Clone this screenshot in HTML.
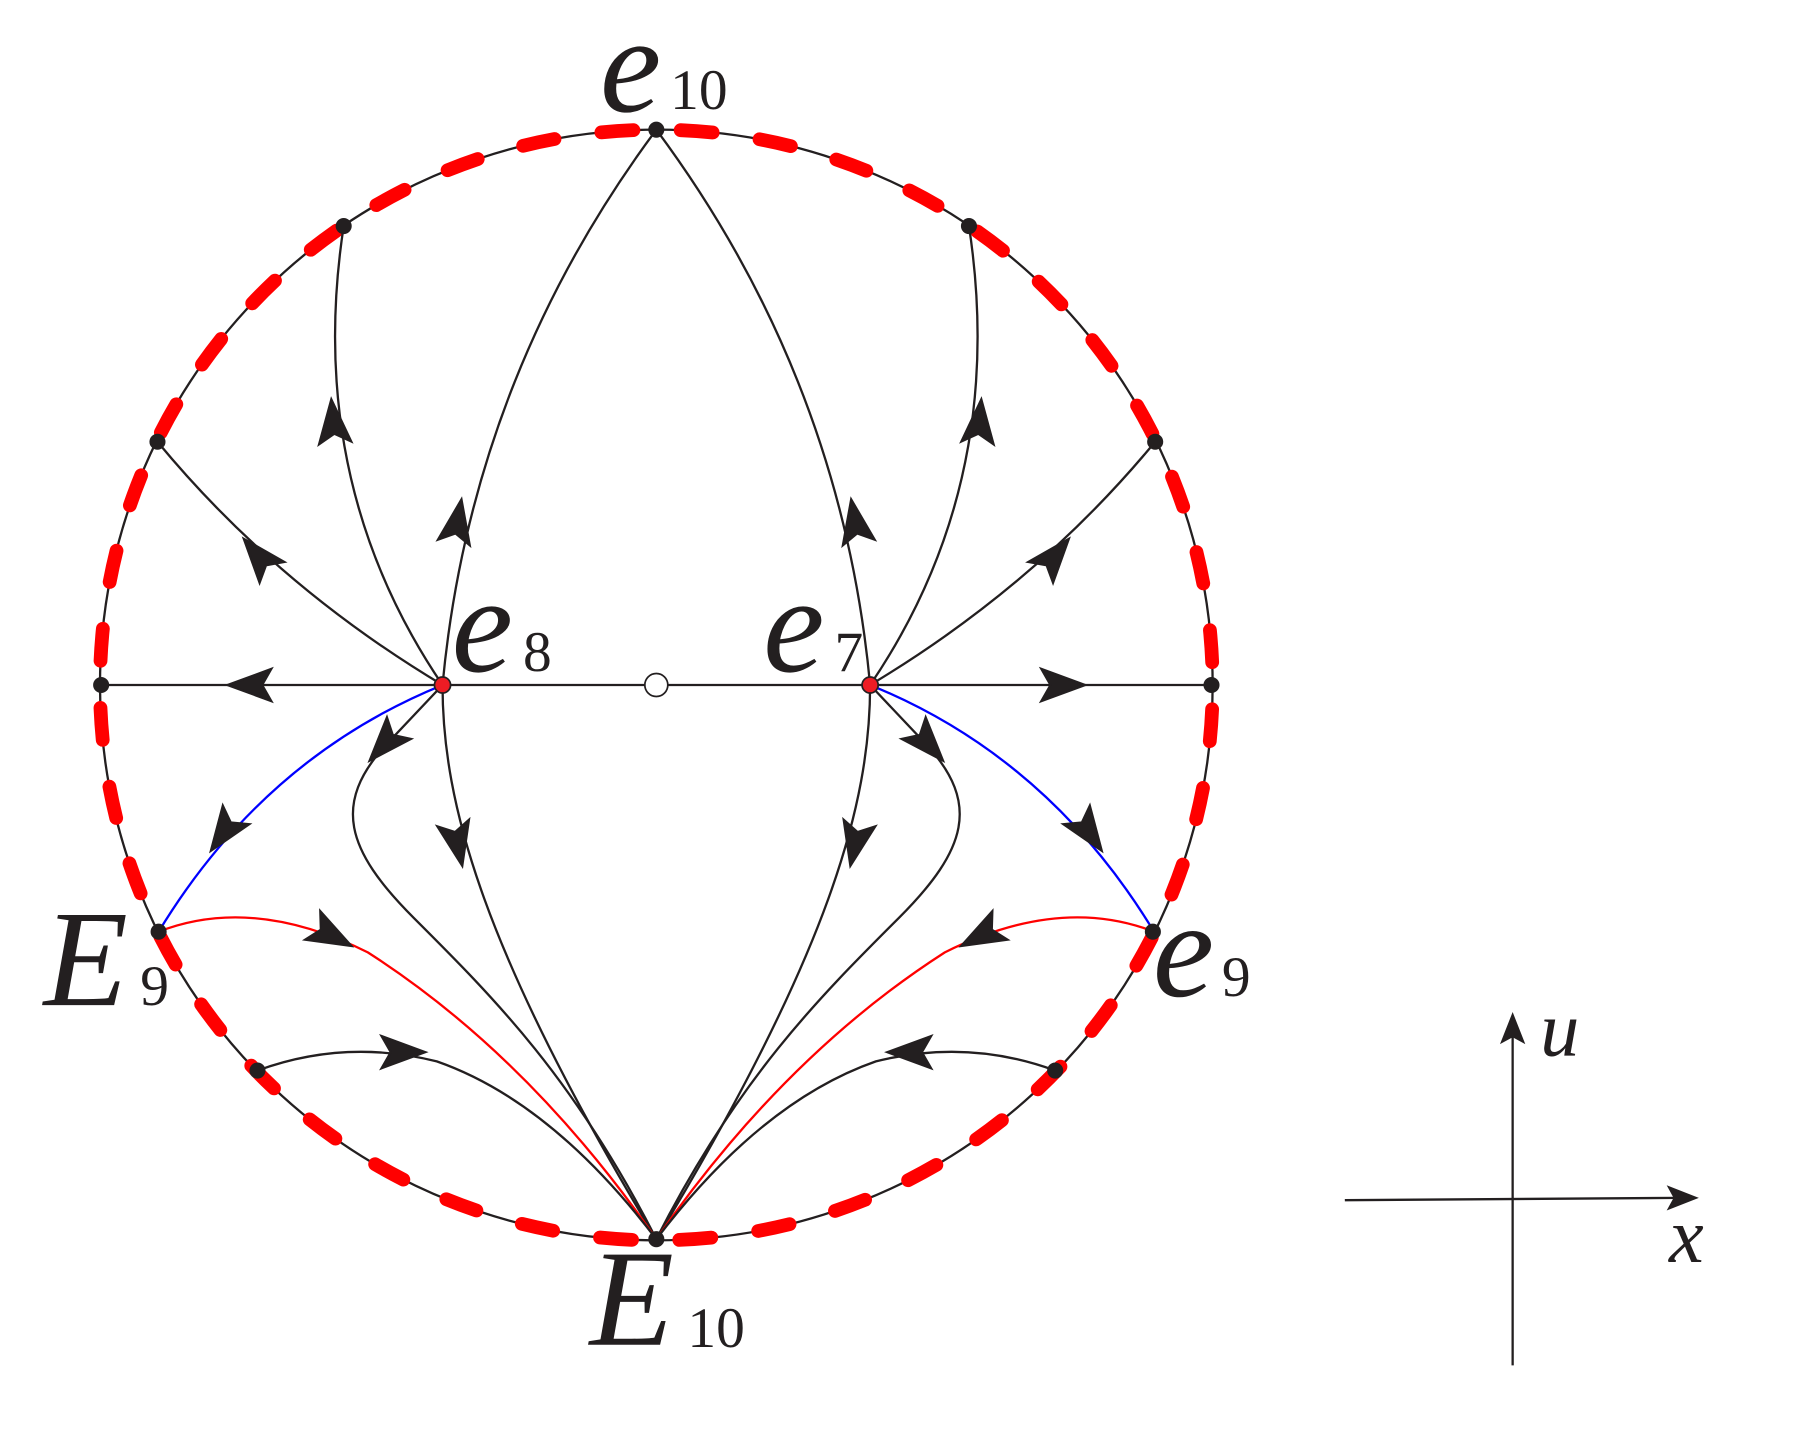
<!DOCTYPE html>
<html><head><meta charset="utf-8"><style>
html,body{margin:0;padding:0;background:#fff}
svg{display:block}
text{font-family:"Liberation Serif",serif;fill:#231f20}
.b{font-style:italic}
</style></head><body>
<svg width="1800" height="1440" viewBox="0 0 1566 1255" preserveAspectRatio="none" xmlns="http://www.w3.org/2000/svg">
<defs>
<path id="ah" d="M20,0 L-18,-14 L-10,0 L-18,14 Z" fill="#231f20"/>
<g id="half" fill="none" stroke="#231f20" stroke-width="2">
  <path d="M571,113 Q410,330 385,597"/>
  <path d="M299,197 Q265,420 385,597"/>
  <path d="M137,385 Q240,510 385,597"/>
  <path d="M385,597 C385,700 420,830 571,1080"/>
  <path d="M385,597 L335,650 C290,700 300,740 360,800 C430,870 500,940 571,1080"/>
  <path d="M385,597 Q230,660 138,812" stroke="#0000ff"/>
  <path d="M138,812 Q220,780 320,830 Q460,920 571,1080" stroke="#ff0000"/>
  <path d="M224,933 Q300,905 380,925 Q480,960 571,1080"/>
  <use href="#ah" transform="translate(290,368) rotate(-95)"/>
  <use href="#ah" transform="translate(225,485) rotate(-130)"/>
  <use href="#ah" transform="translate(398,455) rotate(-80)"/>
  <use href="#ah" transform="translate(218,597) rotate(180)"/>
  <use href="#ah" transform="translate(335,648) rotate(132)"/>
  <use href="#ah" transform="translate(398,735) rotate(78)"/>
  <use href="#ah" transform="translate(195,725) rotate(125)"/>
  <use href="#ah" transform="translate(288,815) rotate(28)"/>
  <use href="#ah" transform="translate(350,917) rotate(0)"/>
</g>
</defs>
<circle cx="571" cy="597" r="484" fill="none" stroke="#231f20" stroke-width="2"/>
<circle cx="571" cy="597" r="484" fill="none" stroke="#ff0000" stroke-width="12" stroke-linecap="round" stroke-dasharray="28 41.11" stroke-dashoffset="48"/>
<line x1="88" y1="597" x2="1055" y2="597" stroke="#231f20" stroke-width="2"/>
<use href="#half"/>
<use href="#half" transform="translate(1142,0) scale(-1,1)"/>
<g fill="#231f20">
<circle cx="571" cy="113" r="7"/><circle cx="299" cy="197" r="7"/><circle cx="137" cy="385" r="7"/>
<circle cx="88" cy="597" r="7"/><circle cx="138" cy="812" r="7"/><circle cx="224" cy="933" r="7"/>
<circle cx="571" cy="1080" r="7"/><circle cx="843" cy="197" r="7"/><circle cx="1005" cy="385" r="7"/>
<circle cx="1054" cy="597" r="7"/><circle cx="1003" cy="812" r="7"/><circle cx="918" cy="933" r="7"/>
</g>
<circle cx="385" cy="597" r="7" fill="#ed1c24" stroke="#231f20" stroke-width="1.5"/>
<circle cx="757" cy="597" r="7" fill="#ed1c24" stroke="#231f20" stroke-width="1.5"/>
<circle cx="571" cy="597" r="10" fill="#fff" stroke="#231f20" stroke-width="1.5"/>
<line x1="1170" y1="1046" x2="1460" y2="1044" stroke="#231f20" stroke-width="2"/>
<path d="M1478,1044 L1450,1033 L1456,1044 L1450,1055 Z" fill="#231f20"/>
<line x1="1316" y1="1190" x2="1316" y2="900" stroke="#231f20" stroke-width="2"/>
<path d="M1316,882 L1305,910 L1316,904 L1327,910 Z" fill="#231f20"/>
<text x="1340" y="920" font-size="68" font-style="italic">u</text>
<text x="1452" y="1100" font-size="68" font-style="italic">x</text>
<text class="b" x="522" y="97" font-size="120">e</text><text x="583" y="95" font-size="50">10</text>
<text class="b" x="393" y="585" font-size="120">e</text><text x="455" y="585" font-size="50">8</text>
<text class="b" x="664" y="585" font-size="120">e</text><text x="726" y="585" font-size="50">7</text>
<text x="38" y="876" font-size="120" font-style="italic">E</text><text x="122" y="876" font-size="50">9</text>
<text class="b" x="1003" y="868" font-size="120">e</text><text x="1063" y="868" font-size="50">9</text>
<text x="513" y="1172" font-size="120" font-style="italic">E</text><text x="598" y="1174" font-size="50">10</text>
</svg>
</body></html>
